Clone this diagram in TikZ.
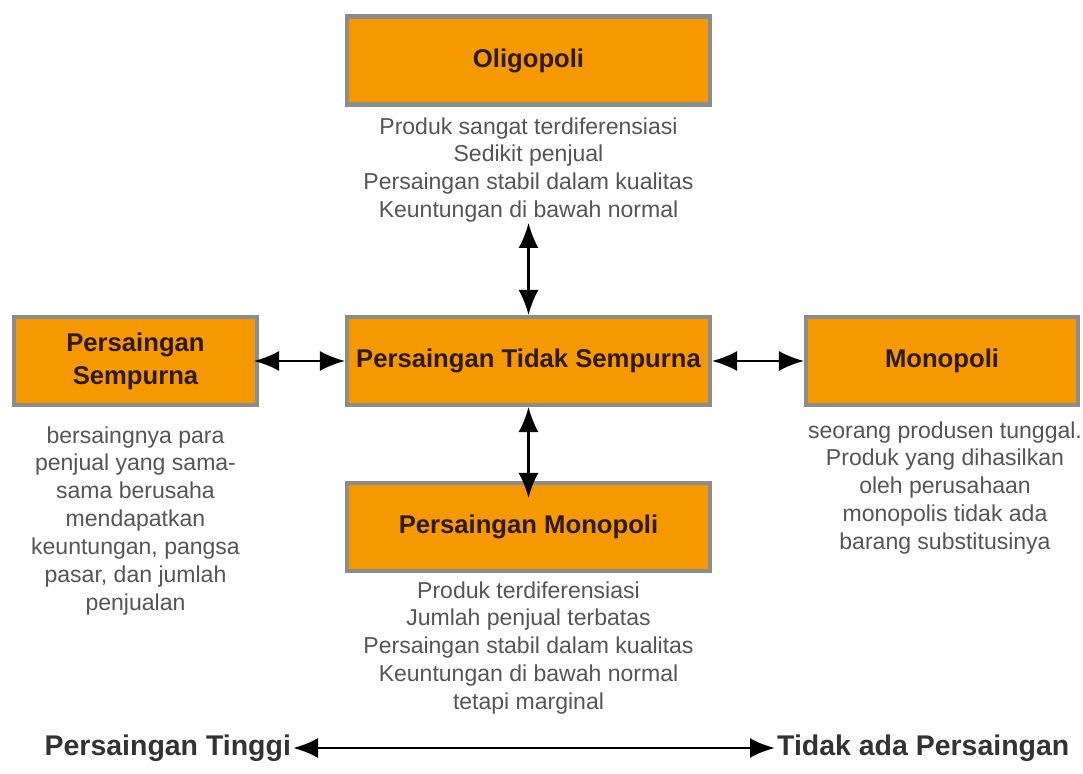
\documentclass[tikz,border=0pt]{standalone}
\usepackage{fontspec}
\setmainfont{Liberation Sans}
\usetikzlibrary{arrows.meta}
\definecolor{boxorange}{RGB}{244,154,0}
\definecolor{boxgray}{RGB}{140,140,140}
\definecolor{titlebrown}{RGB}{46,26,5}
\definecolor{descgray}{RGB}{85,85,85}
\definecolor{basegray}{RGB}{51,51,51}
\begin{document}
\begin{tikzpicture}[cap=round,
	pasar/.style={draw=boxgray,line width=2.3pt,fill=boxorange,text=titlebrown,align=center,
		minimum height=1.76cm,font=\fontsize{14.6}{18.8}\selectfont\bfseries},
	ket/.style={anchor=north,inner sep=0pt,align=center,text=descgray,
		font=\fontsize{13.1}{15.9}\selectfont},
	ujung/.style={line width=1.3pt,{Latex[length=5mm,width=4mm]}-{Latex[length=5mm,width=4mm]}},
	skala/.style={text=basegray,inner sep=1pt,font=\fontsize{16.2}{19}\selectfont\bfseries}]
		\useasboundingbox (0,0) rectangle (21.66,15.48);
		%\draw[step=1cm,very thin,color=gray] (0,0) grid (21.6,15.4);
		\node[pasar,minimum width=7.26cm] (oligo) at (10.57,14.27) {Oligopoli};
		\node[ket] (oligoket) at (10.57,13.14) {Produk sangat terdiferensiasi\\Sedikit penjual\\Persaingan stabil dalam kualitas\\Keuntungan di bawah normal};
		\node[pasar,minimum width=4.86cm] (sempurna) at (2.71,8.26) {Persaingan\\Sempurna};
		\node[pasar,minimum width=7.26cm] (tidak) at (10.57,8.26) {Persaingan Tidak Sempurna};
		\node[pasar,minimum width=5.44cm] (mono) at (18.84,8.26) {Monopoli};
		\node[pasar,minimum width=7.26cm] (pmono) at (10.57,4.94) {Persaingan Monopoli};
		\node[ket] (sempurnaket) at (2.71,6.96) {bersaingnya para\\penjual yang sama-\\sama berusaha\\mendapatkan\\keuntungan, pangsa\\pasar, dan jumlah\\penjualan};
		\node[ket] (monoket) at (18.9,7.06) {seorang produsen tunggal.\\Produk yang dihasilkan\\oleh perusahaan\\monopolis tidak ada\\barang substitusinya};
		\node[ket] (pmonoket) at (10.57,3.86) {Produk terdiferensiasi\\Jumlah penjual terbatas\\Persaingan stabil dalam kualitas\\Keuntungan di bawah normal\\tetapi marginal};
		\draw[ujung] (oligoket.south) -- (tidak.north);
		\draw[ujung,shorten >=-0.34cm] (tidak.south) -- (pmono.north);
		\draw[ujung,shorten <=-0.1cm] (sempurna.east) -- (tidak.west);
		\draw[ujung] (tidak.east) -- (mono.west);
		\node[skala,anchor=east] (tinggi) at (5.86,0.52) {Persaingan Tinggi};
		\node[skala,anchor=west] (tiada) at (15.5,0.52) {Tidak ada Persaingan};
		\draw[ujung,line width=1.7pt] (tinggi.east) -- (tiada.west);
\end{tikzpicture}
\end{document}
